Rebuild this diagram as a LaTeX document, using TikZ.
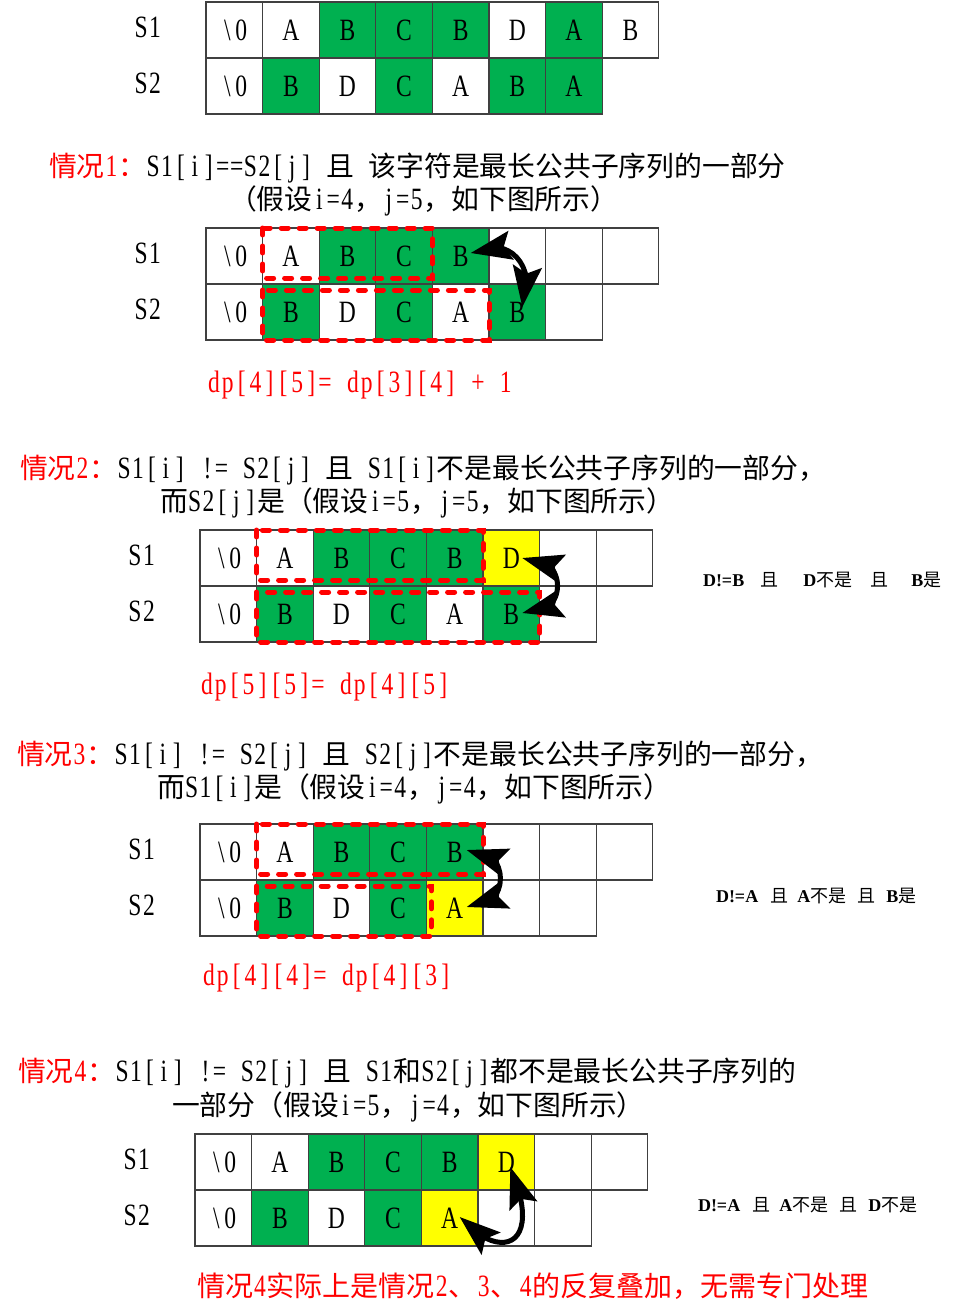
\documentclass[tikz,border=0pt]{standalone}
\usepackage{fontspec}
\usetikzlibrary{arrows.meta,bending}
\setmainfont{Liberation Serif}
\newfontfamily\latf[FakeStretch=0.76]{Liberation Serif}
\newfontfamily\cjkf{Noto Sans CJK SC}
\newfontfamily\sidef{Liberation Serif}
\definecolor{cg}{HTML}{00B050}
\definecolor{cy}{HTML}{FFFF00}
\definecolor{cw}{HTML}{FFFFFF}
\definecolor{gridc}{HTML}{404040}
\newlength\mw \setlength\mw{13.9pt}
\makeatletter
\def\mono#1{\mono@#1\@nil}
\def\mono@#1{\ifx\@nil#1\else\makebox[\mw][c]{#1}\expandafter\mono@\fi}
\makeatother
\newcommand\Lm[1]{{\latf\fontsize{31pt}{36pt}\selectfont\mono{#1}}}
\newcommand\Lx[1]{{\latf\fontsize{31pt}{36pt}\selectfont\expandafter\mono\expandafter{#1}}}
\newcommand\Cj[1]{{\cjkf\fontsize{27.8pt}{32pt}\selectfont #1}}
\newcommand\Cjb[1]{{\cjkf\fontsize{28pt}{32pt}\selectfont #1}}
\newcommand\Sl[1]{{\sidef\bfseries\fontsize{18pt}{22pt}\selectfont #1}}
\newcommand\Sc[1]{{\cjkf\fontsize{18pt}{22pt}\selectfont #1}}
\tikzset{
  cell/.style={draw=gridc, line width=1.3pt, minimum width=56.6pt, minimum height=56pt,
    inner sep=0pt, outer sep=0pt, text height=20pt, text depth=0pt},
  lbl/.style={inner sep=0pt, text height=20pt, text depth=0pt},
  txt/.style={anchor=base west, inner sep=0pt, outer sep=0pt},
  redbox/.style={draw=red, line width=5pt, dash pattern=on 7pt off 11pt, line cap=round},
  dbl/.style={line width=5pt, draw=black, arrows={Stealth[length=34pt,width=24pt,inset=6pt,scale=1.2]-Stealth[length=34pt,width=24pt,inset=6pt,scale=1.2]}}
}
\newcommand\tbl[5]{%
  \foreach \t/\c [count=\i from 0] in {#4} {\node[cell,fill=\c] (#1a\i) at ({#2+56.6*\i+28.3},{#3+28}) {\Lx{\t}};}
  \foreach \t/\c [count=\i from 0] in {#5} {\node[cell,fill=\c] (#1b\i) at ({#2+56.6*\i+28.3},{#3+84}) {\Lx{\t}};}
  \node[lbl] (#1s1) at ({#2-58},{#3+25}) {\Lm{S1}};
  \node[lbl] (#1s2) at ({#2-58},{#3+81}) {\Lm{S2}};
}
\begin{document}
\begin{tikzpicture}[x=1pt,y=-1pt]
\fill[white] (0,0) rectangle (954,1315);
\useasboundingbox (0,0) rectangle (954,1315);

% table 0
\tbl{t0}{206}{2}{\textbackslash0/cw, A/cw, B/cg, C/cg, B/cg, D/cw, A/cg, B/cw}{\textbackslash0/cw, B/cg, D/cw, C/cg, A/cw, B/cg, A/cg}

% case 1
\node[txt] (h1a) at (49,176.5) {{\color{red}\Cj{情况}\Lm{1}\Cj{：}}\Lm{S1[i]==S2[j]~}\Cj{且}\Lm{~}\Cj{该字符是最长公共子序列的一部分}};
\node[txt] (h1b) at (229,209.5) {\Cj{（假设}\Lm{i=4}\Cj{，}\Lm{j=5}\Cj{，如下图所示）}};
\tbl{t1}{206}{228}{\textbackslash0/cw, A/cw, B/cg, C/cg, B/cg, \null/cw, \null/cw, \null/cw}{\textbackslash0/cw, B/cg, D/cw, C/cg, A/cw, B/cg, \null/cw}
\draw[redbox] (t1a1.north west) rectangle ([yshift=6pt]t1a3.south east);
\draw[redbox] ([yshift=-6pt]t1b1.north west) rectangle (t1b4.south east);
\coordinate (c1a) at ([shift={(10,-3)}]t1a4.center);
\coordinate (c1b) at ([shift={(5,-5)}]t1b5.center);
\draw[dbl] (c1a) .. controls +(40,-21) and +(16,-37) .. (c1b);
\node[txt] (d1) at (207,392) {\color{red}\Lm{dp[4][5]=~dp[3][4]~+~1}};

% case 2
\node[txt] (h2a) at (20,478.5) {{\color{red}\Cj{情况}\Lm{2}\Cj{：}}\Lm{S1[i]~!=~S2[j]~}\Cj{且}\Lm{~S1[i]}\Cj{不是最长公共子序列的一部分，}};
\node[txt] (h2b) at (160,511.5) {\Cj{而}\Lm{S2[j]}\Cj{是（假设}\Lm{i=5}\Cj{，}\Lm{j=5}\Cj{，如下图所示）}};
\tbl{t2}{200}{530}{\textbackslash0/cw, A/cw, B/cg, C/cg, B/cg, D/cy, \null/cw, \null/cw}{\textbackslash0/cw, B/cg, D/cw, C/cg, A/cw, B/cg, \null/cw}
\draw[redbox] (t2a1.north west) rectangle ([yshift=6pt]t2a4.south east);
\draw[redbox] ([yshift=-6pt]t2b1.north west) rectangle (t2b5.south east);
\coordinate (c2a) at ([shift={(11,0)}]t2a5.center);
\coordinate (c2b) at ([shift={(11,-1)}]t2b5.center);
\draw[dbl] (c2a) .. controls +(47,-6) and +(47,7) .. (c2b);
\node[txt] (s2) at (703,586) {\Sl{D!=B}\hspace{16pt}\Sc{且}\hspace{25pt}\Sl{D}\Sc{不是}\hspace{18pt}\Sc{且}\hspace{23pt}\Sl{B}\Sc{是}};
\node[txt] (d2) at (200,694) {\color{red}\Lm{dp[5][5]=~dp[4][5]}};

% case 3
\node[txt] (h3a) at (17,764.5) {{\color{red}\Cj{情况}\Lm{3}\Cj{：}}\Lm{S1[i]~!=~S2[j]~}\Cj{且}\Lm{~S2[j]}\Cj{不是最长公共子序列的一部分，}};
\node[txt] (h3b) at (157,797.5) {\Cj{而}\Lm{S1[i]}\Cj{是（假设}\Lm{i=4}\Cj{，}\Lm{j=4}\Cj{，如下图所示）}};
\tbl{t3}{200}{824}{\textbackslash0/cw, A/cw, B/cg, C/cg, B/cg, \null/cw, \null/cw, \null/cw}{\textbackslash0/cw, B/cg, D/cw, C/cg, A/cy, \null/cw, \null/cw}
\draw[redbox] (t3a1.north west) rectangle ([yshift=6pt]t3a4.south east);
\draw[redbox] ([yshift=-6pt]t3b1.north west) rectangle ([xshift=5pt]t3b3.south east);
\coordinate (c3a) at ([shift={(12,-2)}]t3a4.center);
\coordinate (c3b) at ([shift={(12,-1)}]t3b4.center);
\draw[dbl] (c3a) .. controls +(45,-5) and +(45,5) .. (c3b);
\node[txt] (s3) at (716,902) {\Sl{D!=A}\hspace{12pt}\Sc{且}\hspace{9pt}\Sl{A}\Sc{不是}\hspace{11pt}\Sc{且}\hspace{11pt}\Sl{B}\Sc{是}};
\node[txt] (d3) at (202,985) {\color{red}\Lm{dp[4][4]=~dp[4][3]}};

% case 4
\node[txt] (h4a) at (18,1081.5) {{\color{red}\Cj{情况}\Lm{4}\Cj{：}}\Lm{S1[i]~!=~S2[j]~}\Cj{且}\Lm{~S1}\Cj{和}\Lm{S2[j]}\Cj{都不是最长公共子序列的}};
\node[txt] (h4b) at (172,1115.5) {\Cj{一部分（假设}\Lm{i=5}\Cj{，}\Lm{j=4}\Cj{，如下图所示）}};
\tbl{t4}{195}{1134}{\textbackslash0/cw, A/cw, B/cg, C/cg, B/cg, D/cy, \null/cw, \null/cw}{\textbackslash0/cw, B/cg, D/cw, C/cg, A/cy, \null/cw, \null/cw}
\coordinate (c4a) at ([shift={(10,-1)}]t4b4.center);
\coordinate (c4b) at ([shift={(4,5)}]t4a5.center);
\draw[dbl] (c4a) .. controls +(38,44) and +(35,83) .. (c4b);
\node[txt] (s4) at (698,1211) {\Sl{D!=A}\hspace{12pt}\Sc{且}\hspace{9pt}\Sl{A}\Sc{不是}\hspace{11pt}\Sc{且}\hspace{11pt}\Sl{D}\Sc{不是}};
\node[txt] (fin) at (197,1296) {\color{red}\Cjb{情况}\Lm{4}\Cjb{实际上是情况}\Lm{2}\Cjb{、}\Lm{3}\Cjb{、}\Lm{4}\Cjb{的反复叠加，无需专门处理}};
\end{tikzpicture}
\end{document}
